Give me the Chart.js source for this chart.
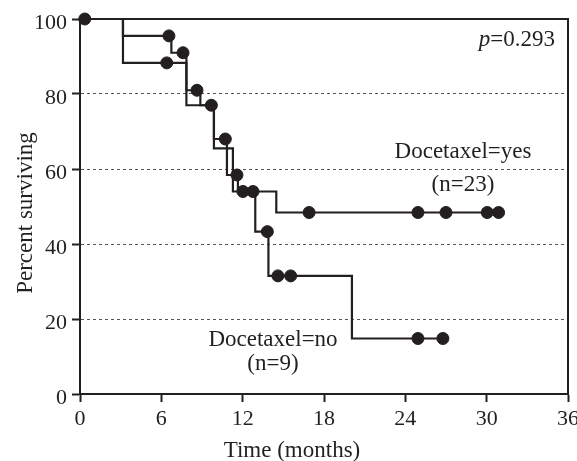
<!DOCTYPE html>
<html>
<head>
<meta charset="utf-8">
<script src="https://cdn.jsdelivr.net/npm/chart.js@4.4.1/dist/chart.umd.min.js"></script>
<style>
html,body{margin:0;padding:0;background:#fff;}
#wrap{width:577px;height:461px;}
</style>
</head>
<body>
<div id="wrap"><canvas id="c" width="577" height="461"></canvas></div>
<script>
// Kaplan-Meier step points (time in months, percent surviving)
const yesStepTimes = [0, 3.17, 6.74, 7.85, 8.88, 9.88, 10.84, 11.65, 14.48, 30.88];
const yesStepSurv  = [100, 95.5, 91, 81, 77, 68, 58.4, 54, 48.4, 48.4];
const yesCensorTimes = [0.35, 6.56, 7.6, 8.63, 9.69, 10.72, 11.58, 12.02, 12.76, 16.9, 24.93, 27.0, 30.04, 30.88];
const yesCensorSurv  = [100, 95.5, 91, 81, 77, 68, 58.4, 54, 54, 48.4, 48.4, 48.4, 48.4, 48.4];

const noStepTimes = [0, 3.17, 7.85, 9.88, 11.28, 12.93, 13.9, 20.06, 26.77];
const noStepSurv  = [100, 88.3, 77, 65.5, 54, 43.3, 31.5, 14.8, 14.8];
const noCensorTimes = [6.4, 13.82, 14.6, 15.54, 24.93, 26.77];
const noCensorSurv  = [88.3, 43.3, 31.5, 31.5, 14.8, 14.8];

const xTickValues = [0, 6, 12, 18, 24, 30, 36];
const yTickValues = [0, 20, 40, 60, 80, 100];
const yGridValues = [20, 40, 60, 80];

const labelYes = ['Docetaxel=yes', '(n=23)'];
const labelNo = ['Docetaxel=no', '(n=9)'];
const pText = ['p', '=0.293'];
const xTitle = 'Time (months)';
const yTitle = 'Percent surviving';

const INK = '#231f20';
const FONT = "'Liberation Serif', 'Times New Roman', serif";

function pts(xs, ys){ return xs.map((x,i)=>({x:x, y:ys[i]})); }

const annot = {
  id: 'annot',
  afterDatasetsDraw(chart){
    const ctx = chart.ctx, a = chart.chartArea;
    ctx.save();
    // frame top and right
    ctx.strokeStyle = INK; ctx.lineWidth = 2;
    ctx.beginPath();
    ctx.moveTo(a.left - 1, a.top); ctx.lineTo(a.right, a.top); ctx.lineTo(a.right, a.bottom);
    ctx.stroke();
    ctx.fillStyle = INK;
    ctx.font = '23px ' + FONT;
    ctx.textBaseline = 'alphabetic';
    ctx.textAlign = 'center';
    ctx.fillText(labelYes[0], 463, 158);
    ctx.fillText(labelYes[1], 463, 191);
    ctx.fillText(labelNo[0], 273, 346);
    ctx.fillText(labelNo[1], 273, 370);
    ctx.fillText(xTitle, 292, 457);
    // p value
    ctx.textAlign = 'right';
    const w2 = ctx.measureText(pText[1]).width;
    ctx.fillText(pText[1], 555, 46);
    ctx.font = 'italic 23px ' + FONT;
    ctx.fillText(pText[0], 555 - w2, 46);
    // y title
    ctx.font = '23px ' + FONT;
    ctx.translate(32, 213);
    ctx.rotate(-Math.PI/2);
    ctx.textAlign = 'center';
    ctx.fillText(yTitle, 0, 0);
    ctx.restore();
  }
};

new Chart(document.getElementById('c'), {
  type: 'line',
  data: {
    datasets: [
      { data: pts(yesStepTimes, yesStepSurv), stepped: true, borderColor: INK, borderWidth: 2.2, pointRadius: 0, fill: false },
      { data: pts(noStepTimes, noStepSurv), stepped: true, borderColor: INK, borderWidth: 2.2, pointRadius: 0, fill: false },
      { data: pts(yesCensorTimes, yesCensorSurv), showLine: false, pointRadius: 6, pointBorderWidth: 1, pointBackgroundColor: INK, pointBorderColor: INK },
      { data: pts(noCensorTimes, noCensorSurv), showLine: false, pointRadius: 6, pointBorderWidth: 1, pointBackgroundColor: INK, pointBorderColor: INK }
    ]
  },
  options: {
    responsive: false,
    animation: false,
    clip: false,
    layout: { padding: { top: 19, right: 9, left: 0, bottom: 0 } },
    plugins: { legend: { display: false }, tooltip: { enabled: false } },
    scales: {
      x: {
        type: 'linear', min: 0, max: 36,
        afterBuildTicks: s => { s.ticks = xTickValues.map(v => ({value: v})); },
        afterFit: s => { s.height = 67; s.paddingLeft = 0; s.paddingRight = 0; },
        border: { display: true, color: INK, width: 2 },
        grid: { drawOnChartArea: false, drawTicks: true, tickLength: 8, tickColor: INK, tickWidth: 2 },
        ticks: { color: INK, font: { family: FONT, size: 22 }, padding: 4, maxRotation: 0 }
      },
      y: {
        type: 'linear', min: 0, max: 100,
        afterBuildTicks: s => { s.ticks = yTickValues.map(v => ({value: v})); },
        afterFit: s => { s.width = 80; s.paddingTop = 0; s.paddingBottom = 0; },
        border: { display: true, color: INK, width: 2, dash: [3, 3] },
        grid: {
          drawTicks: true, tickLength: 8, tickColor: INK, tickWidth: 2, tickBorderDash: [],
          color: ctx => (yGridValues.includes(ctx.tick && ctx.tick.value) ? '#555' : 'rgba(0,0,0,0)'),
          lineWidth: 1
        },
        ticks: { color: INK, font: { family: FONT, size: 22 }, padding: 5, labelOffset: 4 }
      }
    }
  },
  plugins: [annot]
});
</script>
</body>
</html>
